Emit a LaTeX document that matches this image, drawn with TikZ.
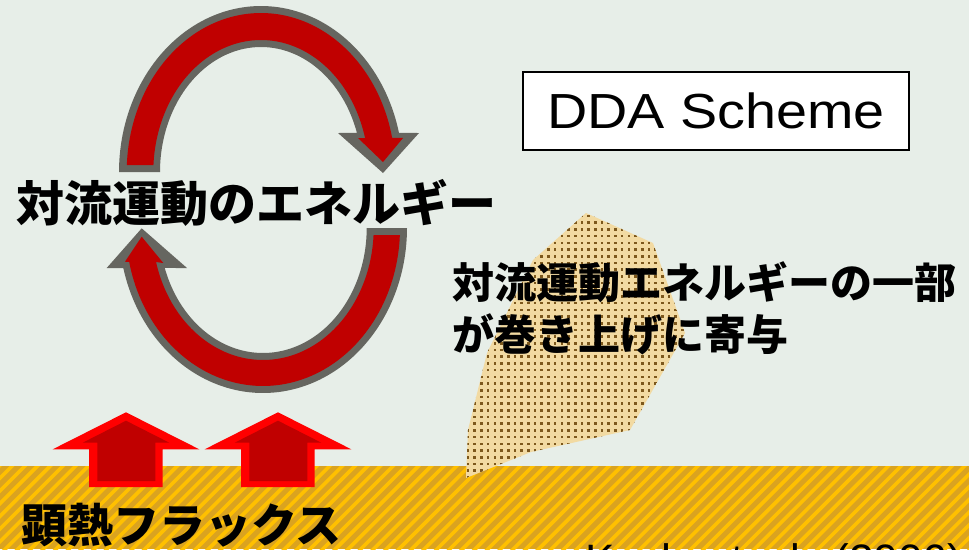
\documentclass[tikz,border=0pt]{standalone}
\usepackage{fontspec}
\setmainfont{Liberation Sans}
\newfontfamily\jp{Noto Sans CJK JP}
\definecolor{bgc}{RGB}{231,238,232}
\definecolor{groundc}{RGB}{218,163,32}
\definecolor{stripec}{RGB}{255,192,0}
\definecolor{plumec}{RGB}{242,218,162}
\definecolor{dotc}{RGB}{125,88,28}
\definecolor{loopred}{RGB}{192,0,0}
\definecolor{loopgray}{RGB}{102,102,96}
\definecolor{fluxedge}{RGB}{255,0,0}
\definecolor{fluxfill}{RGB}{192,0,0}
\tikzset{
  jplabel/.style={inner sep=0pt, anchor=base west, font=\jp\bfseries},
  titlebox/.style={draw=black, line width=1.3pt, fill=white, minimum width=386pt, minimum height=78pt, inner sep=0pt},
}
\begin{document}
\begin{tikzpicture}[x=1pt,y=-1pt]
\useasboundingbox (0,0) rectangle (969,549);
\clip (0,0) rectangle (969,549);
% backdrop
\fill[bgc] (0,0) rectangle (969,549);

% ground with diagonal hatching
\begin{scope}
  \clip (0,466) rectangle (969,549);
  \fill[groundc] (0,466) rectangle (969,549);
  \foreach \i in {0,...,88} {
    \draw[stripec, line width=3.6pt] ({-120+12.7*\i},560) -- ({-10+12.7*\i},450);
  }
\end{scope}

% dust plume
\coordinate (p1) at (586,213);
\coordinate (p2) at (653,243);
\coordinate (p3) at (685,333);
\coordinate (p4) at (630,430);
\coordinate (p5) at (531,452);
\coordinate (p6) at (466,478);
\coordinate (p7) at (468,430);
\coordinate (p8) at (487,353);
\coordinate (p9) at (533,260);
\begin{scope}
  \clip (p1) -- (p2) -- (p3) -- (p4) -- (p5) -- (p6) -- (p7) -- (p8) -- (p9) -- cycle;
  \fill[plumec] (455,205) rectangle (700,485);
  \foreach \r in {0,...,41} {
    \foreach \c in {0,...,36} {
      \fill[dotc] ({460+\c*6.7},{208+\r*6.7}) rectangle ++(2.6,2.6);
    }
  }
\end{scope}

% upward heat-flux arrows
\foreach \dx/\nm in {0/fluxA,152/fluxB} {
  \begin{scope}[xshift=\dx pt]
    \fill[fluxedge] (126,412.3) -- (199.3,449.3) -- (162.7,449.3) -- (162.7,487)
      -- (89,487) -- (89,449.3) -- (52.7,449.3) -- cycle;
    \fill[fluxfill] (126,420.7) -- (169.3,442.7) -- (155.3,442.7) -- (155.3,481)
      -- (97.3,481) -- (97.3,442.7) -- (82.7,442.7) -- cycle;
  \end{scope}
}

% upper circulation arrow
\fill[loopgray] plot[domain=180:346.4, samples=90] ({261+142*cos(\x)},{172+166*sin(\x)})
  -- (419,133) -- (383,173) -- (338,133)
  -- plot[domain=341.8:180, samples=90] ({261+101*cos(\x)},{172+125*sin(\x)}) -- cycle;
\fill[loopred] plot[domain=182.5:347.6, samples=90] ({261+134.3*cos(\x)},{172+159*sin(\x)})
  -- (403,138) -- (383,162) -- (358,138)
  -- plot[domain=345.1:183, samples=90] ({261+107.7*cos(\x)},{172+132*sin(\x)}) -- cycle;

% lower circulation arrow
\fill[loopgray] plot[domain=0:165.97, samples=90] ({263+144*cos(\x)},{228+165*sin(\x)})
  -- (106.7,268) -- (141.7,228.3) -- (187,268)
  -- plot[domain=161.34:0, samples=90] ({263+103.7*cos(\x)},{228+125*sin(\x)}) -- cycle;
\fill[loopred] plot[domain=2.54:167.57, samples=90] ({263+137*cos(\x)},{228+158*sin(\x)})
  -- (125,261.7) -- (141.7,236.7) -- (163.3,263)
  -- plot[domain=165.07:3.04, samples=90] ({263+110.7*cos(\x)},{228+132*sin(\x)}) -- cycle;

% labels
\node[jplabel, font=\jp\bfseries\fontsize{48}{48}\selectfont] (energy) at (16,221) {対流運動のエネルギー};
\node[jplabel, font=\jp\bfseries\fontsize{42}{42}\selectfont] (part1) at (452,298.5) {対流運動エネルギーの一部};
\node[jplabel, font=\jp\bfseries\fontsize{42}{42}\selectfont] (part2) at (452,350.5) {が巻き上げに寄与};
\node[jplabel, font=\jp\bfseries\fontsize{46}{46}\selectfont] (flux) at (21,542.5) {顕熱フラックス};
\node[titlebox] (title) at (716,111) {\scalebox{1.13}[1]{\fontsize{49.3}{50}\selectfont DDA Scheme}};
\node[inner sep=0pt, anchor=base west, font=\fontsize{44}{44}\selectfont] (ref) at (585,575.5)
  {Koch\hspace{0.5em}et\hspace{0.5em}al.\hspace{0.5em}(2006)};
\end{tikzpicture}
\end{document}
